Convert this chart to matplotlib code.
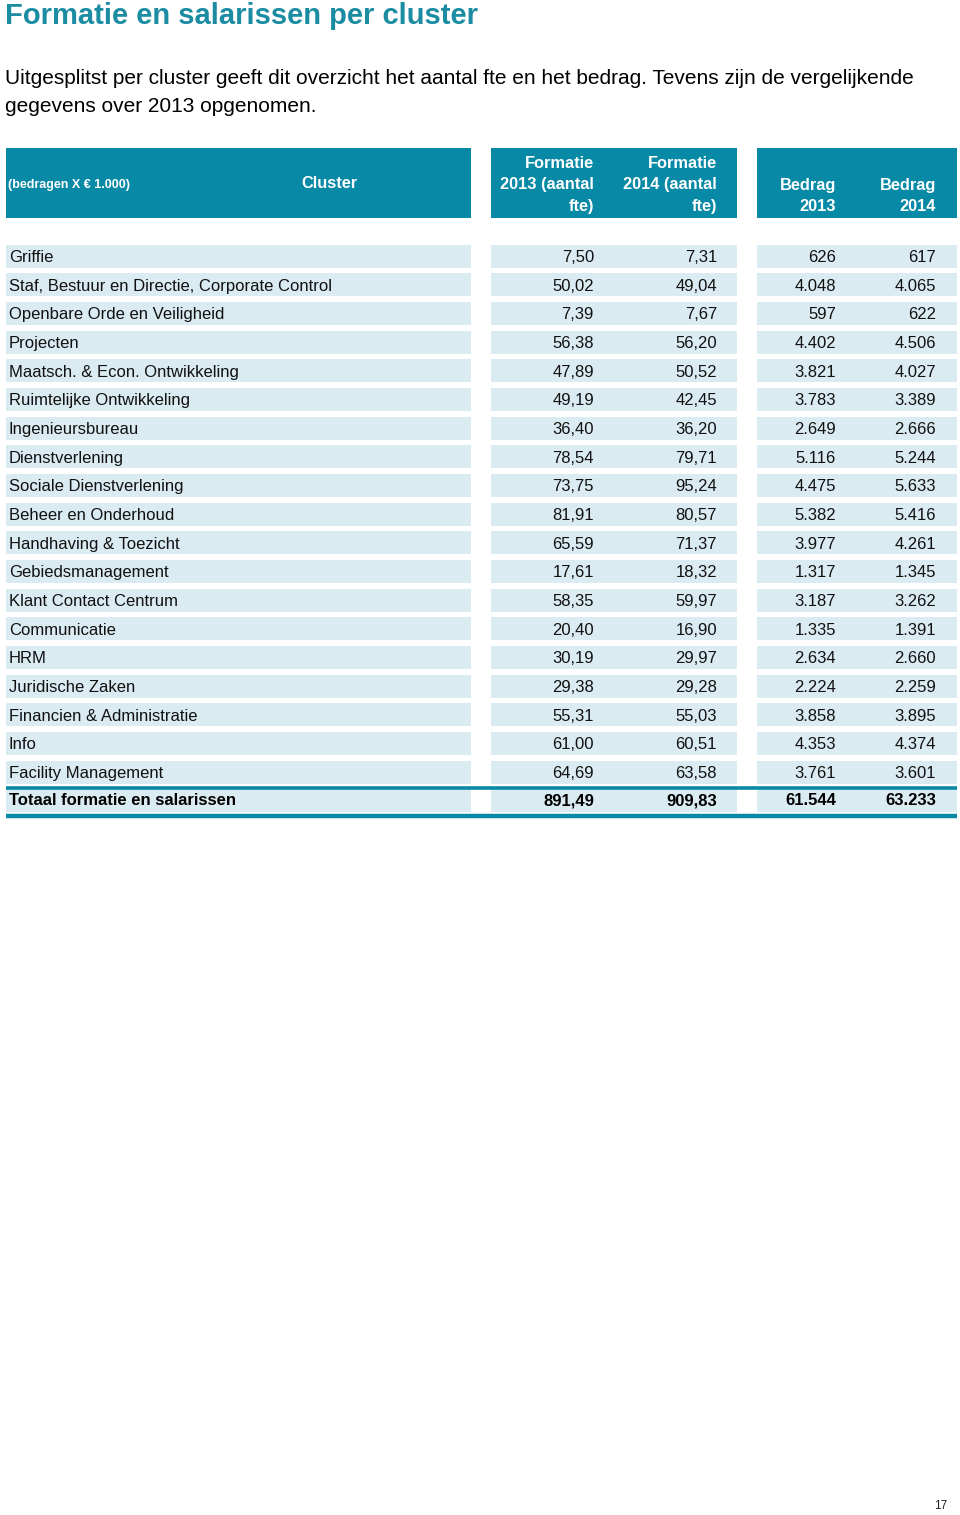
import matplotlib
matplotlib.use('Agg')
import matplotlib.pyplot as plt
from matplotlib.patches import Rectangle

### DATA
clusters = [
    'Griffie',
    'Staf, Bestuur en Directie, Corporate Control',
    'Openbare Orde en Veiligheid',
    'Projecten',
    'Maatsch. & Econ. Ontwikkeling',
    'Ruimtelijke Ontwikkeling',
    'Ingenieursbureau',
    'Dienstverlening',
    'Sociale Dienstverlening',
    'Beheer en Onderhoud',
    'Handhaving & Toezicht',
    'Gebiedsmanagement',
    'Klant Contact Centrum',
    'Communicatie',
    'HRM',
    'Juridische Zaken',
    'Financien & Administratie',
    'Info',
    'Facility Management',
]
fte_2013 = [7.50, 50.02, 7.39, 56.38, 47.89, 49.19, 36.40, 78.54, 73.75, 81.91,
            65.59, 17.61, 58.35, 20.40, 30.19, 29.38, 55.31, 61.00, 64.69]
fte_2014 = [7.31, 49.04, 7.67, 56.20, 50.52, 42.45, 36.20, 79.71, 95.24, 80.57,
            71.37, 18.32, 59.97, 16.90, 29.97, 29.28, 55.03, 60.51, 63.58]
bedrag_2013 = [626, 4048, 597, 4402, 3821, 3783, 2649, 5116, 4475, 5382,
               3977, 1317, 3187, 1335, 2634, 2224, 3858, 4353, 3761]
bedrag_2014 = [617, 4065, 622, 4506, 4027, 3389, 2666, 5244, 5633, 5416,
               4261, 1345, 3262, 1391, 2660, 2259, 3895, 4374, 3601]

total_label = 'Totaal formatie en salarissen'
total_fte = [891.49, 909.83]
total_bedrag = [61544, 63233]

### STYLE
TEAL = '#0889a5'
TITLE_COLOR = '#1b8ca2'
BAND = '#dbebf2'
FONT = 'Liberation Sans'

# column blocks (pixel coords)
BLOCKS = [(6, 471), (491, 737), (757, 957)]
NUM_RIGHT = [594, 717, 836, 936]


def fmt_fte(v):
    return f'{v:.2f}'.replace('.', ',')


def fmt_eur(v):
    return f'{v:,}'.replace(',', '.')


fig = plt.figure(figsize=(9.6, 15.15), dpi=100)
ax = fig.add_axes([0, 0, 1, 1])
ax.set_xlim(0, 960)
ax.set_ylim(1515, 0)
ax.axis('off')

# title and intro
ax.text(5, 16, 'Formatie en salarissen per cluster', fontsize=21, fontweight='bold',
        color=TITLE_COLOR, family=FONT, va='center', ha='left')
ax.text(5, 78, 'Uitgesplitst per cluster geeft dit overzicht het aantal fte en het bedrag. '
        'Tevens zijn de vergelijkende', fontsize=15, family=FONT, va='center')
ax.text(5, 106, 'gegevens over 2013 opgenomen.', fontsize=15, family=FONT, va='center')

# header blocks
for x0, x1 in BLOCKS:
    ax.add_patch(Rectangle((x0, 148), x1 - x0, 70, color=TEAL, lw=0))

hdr = dict(color='white', fontweight='bold', family=FONT, fontsize=11.8, va='center')
ax.text(8, 185, '(bedragen X € 1.000)', **{**hdr, 'fontsize': 9})
ax.text(329, 184, 'Cluster', ha='center', **hdr)
ax.text(NUM_RIGHT[0], 185, 'Formatie\n2013 (aantal\nfte)', ha='right',
        linespacing=1.5, **hdr)
ax.text(NUM_RIGHT[1], 185, 'Formatie\n2014 (aantal\nfte)', ha='right',
        linespacing=1.5, **hdr)
ax.text(NUM_RIGHT[2], 196, 'Bedrag\n2013', ha='right', linespacing=1.5, **hdr)
ax.text(NUM_RIGHT[3], 196, 'Bedrag\n2014', ha='right', linespacing=1.5, **hdr)

# data rows
y0 = 256
pitch = 28.67
body = dict(fontsize=12, family=FONT, va='center', color='#111111')
for i, name in enumerate(clusters):
    yc = y0 + i * pitch
    for x0, x1 in BLOCKS:
        ax.add_patch(Rectangle((x0, yc - 11.5), x1 - x0, 23, color=BAND, lw=0))
    ax.text(9, yc + 1.5, name, ha='left', **body)
    vals = [fmt_fte(fte_2013[i]), fmt_fte(fte_2014[i]),
            fmt_eur(bedrag_2013[i]), fmt_eur(bedrag_2014[i])]
    for xr, s in zip(NUM_RIGHT, vals):
        ax.text(xr, yc + 1.5, s, ha='right', **body)

# total row
yt = 799
for x0, x1 in BLOCKS:
    ax.add_patch(Rectangle((x0, yt - 11), x1 - x0, 24, color=BAND, lw=0))
ax.plot([6, 957], [787.5, 787.5], color=TEAL, lw=2.6, solid_capstyle='butt')
ax.plot([6, 957], [815.5, 815.5], color=TEAL, lw=3.2, solid_capstyle='butt')
bold = {**body, 'fontweight': 'bold', 'color': 'black'}
ax.text(9, yt + 1.5, total_label, ha='left', **bold)
tvals = [fmt_fte(total_fte[0]), fmt_fte(total_fte[1]),
         fmt_eur(total_bedrag[0]), fmt_eur(total_bedrag[1])]
for xr, s in zip(NUM_RIGHT, tvals):
    ax.text(xr, yt + 1.5, s, ha='right', **bold)

# page number
ax.text(947, 1506, '17', ha='right', va='center', fontsize=8.5, family=FONT, color='#222222')

fig.savefig('out.png', dpi=100)
